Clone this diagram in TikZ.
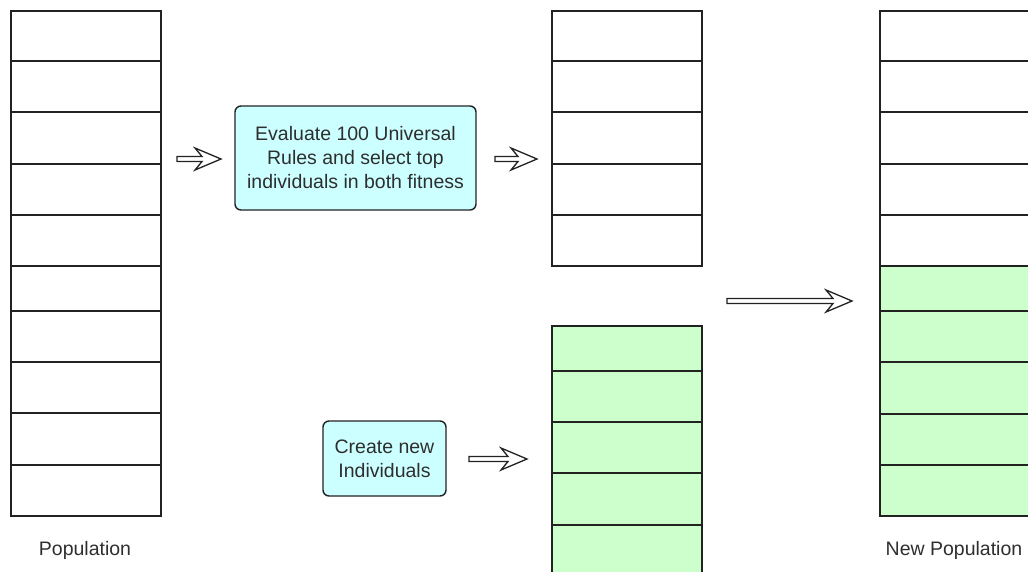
\documentclass[tikz,border=0pt]{standalone}
\usepackage{fontspec}
\setmainfont{Liberation Sans}
\usetikzlibrary{calc}
\definecolor{cellline}{HTML}{222222}
\definecolor{greenfill}{HTML}{CCFFCC}
\definecolor{cyanfill}{HTML}{CCFFFF}
\definecolor{textgray}{HTML}{2E2E2E}
\tikzset{
 cellbox/.style={draw=cellline, line width=1.6pt, inner sep=0pt, anchor=north west, minimum width=150pt, fill=white},
 greencell/.style={cellbox, fill=greenfill},
 procbox/.style={draw=cellline, line width=1.4pt, fill=cyanfill, rounded corners=6pt, align=center, font=\fontsize{19.5}{24}\selectfont, text=textgray, inner sep=0pt},
 caption/.style={font=\fontsize{19.5}{24}\selectfont, text=textgray},
 hollow/.style={draw=cellline, line width=1.3pt, fill=white, line join=miter},
}
\newcommand{\hollowarrow}[2]{\draw[hollow] let \p1=(#1), \p2=(#2) in (\x1,\y1+2.5pt) -- (\x2-19pt,\y1+2.5pt) -- (\x2-26pt,\y1+11pt) -- (\x2,\y1) -- (\x2-26pt,\y1-11pt) -- (\x2-19pt,\y1-2.5pt) -- (\x1,\y1-2.5pt) -- cycle;}
\begin{document}
\begin{tikzpicture}[x=1pt,y=-1pt]
\useasboundingbox (0,0) rectangle (1028,571);
\clip (0,0) rectangle (1028,571);
% Population column
\foreach \t/\b [count=\i] in {10/60,60/111,111/163,163/214,214/265,265/310,310/361,361/412,412/464,464/515}
  \node[cellbox, minimum height={(\b-\t)*1pt}] (pop\i) at (10,\t) {};
% middle selected column
\foreach \t/\b [count=\i] in {10/60,60/111,111/163,163/214,214/265}
  \node[cellbox, minimum height={(\b-\t)*1pt}] (sel\i) at (551,\t) {};
% middle new individuals column
\foreach \t/\b [count=\i] in {325/370,370/421,421/472,472/524,524/575}
  \node[greencell, minimum height={(\b-\t)*1pt}] (new\i) at (551,\t) {};
% new population column
\foreach \t/\b [count=\i] in {10/60,60/111,111/163,163/214,214/265}
  \node[cellbox, minimum height={(\b-\t)*1pt}] (npw\i) at (879,\t) {};
\foreach \t/\b [count=\i] in {265/310,310/361,361/413,413/464,464/515}
  \node[greencell, minimum height={(\b-\t)*1pt}] (npg\i) at (879,\t) {};
% process boxes
\node[procbox, minimum width=241pt, minimum height=104pt] (eval) at (355.5,158) {Evaluate 100 Universal\\Rules and select top\\individuals in both fitness};
\node[procbox, minimum width=123pt, minimum height=75pt] (create) at (384.5,458.5) {Create new\\Individuals};
% captions
\node[caption] (poplabel) at (85,550) {Population};
\node[caption] (newlabel) at (954,550) {New Population};
% arrows
\coordinate (a1s) at (177,159); \coordinate (a1e) at (221,159);
\coordinate (a2s) at (495,159); \coordinate (a2e) at (537,159);
\coordinate (a3s) at (469,459); \coordinate (a3e) at (527,459);
\coordinate (a4s) at (727,301); \coordinate (a4e) at (852,301);
\hollowarrow{a1s}{a1e}
\hollowarrow{a2s}{a2e}
\hollowarrow{a3s}{a3e}
\hollowarrow{a4s}{a4e}
\end{tikzpicture}
\end{document}
